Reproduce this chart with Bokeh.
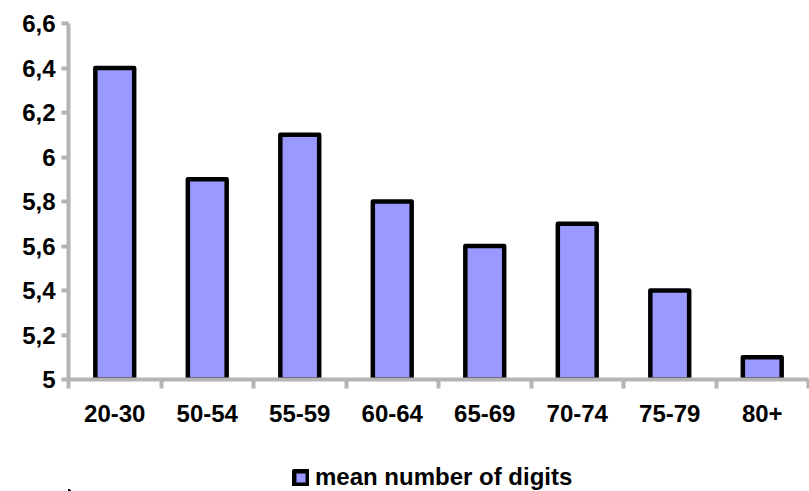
from bokeh.plotting import figure
from bokeh.layouts import column
from bokeh.models import (Range1d, FixedTicker, Legend, LegendItem, ColumnDataSource)
from bokeh.embed import file_html
from bokeh.resources import INLINE

# Mean number of digits recalled, by age group
age_groups = ["20-30", "50-54", "55-59", "60-64", "65-69", "70-74", "75-79", "80+"]
mean_digits = [6.4, 5.9, 6.1, 5.8, 5.6, 5.7, 5.4, 5.1]
y_ticks = [5.0, 5.2, 5.4, 5.6, 5.8, 6.0, 6.2, 6.4, 6.6]
y_tick_labels = ["5", "5,2", "5,4", "5,6", "5,8", "6", "6,2", "6,4", "6,6"]
series_name = "mean number of digits"

FONT = "Liberation Sans"
AXIS_GREY = "#b4b4b4"
BAR_STYLE = dict(fill_color="#9999ff", line_color="black", line_width=4.5,
                 line_join="round")

n = len(age_groups)
centers = [i + 0.5 for i in range(n)]
source = ColumnDataSource(dict(x=centers, top=mean_digits, label=age_groups))

p = figure(width=809, height=440, output_backend="svg", toolbar_location=None,
           x_range=Range1d(0, n), y_range=Range1d(5.0, 6.6),
           min_border_left=68, min_border_right=1, min_border_top=23,
           min_border_bottom=61)
p.outline_line_color = None
p.grid.visible = False

p.vbar(x="x", top="top", bottom=4.9, width=0.42, source=source, **BAR_STYLE)

# y axis
ya = p.yaxis[0]
ya.ticker = FixedTicker(ticks=y_ticks, minor_ticks=[])
ya.major_label_overrides = {t: s for t, s in zip(y_ticks, y_tick_labels)}
ya.axis_line_color = AXIS_GREY
ya.axis_line_width = 4
ya.major_tick_line_color = AXIS_GREY
ya.major_tick_line_width = 4
ya.major_tick_out = 7
ya.major_tick_in = 0
ya.major_label_standoff = 6
ya.major_label_text_font = FONT
ya.major_label_text_font_style = "bold"
ya.major_label_text_font_size = "24px"
ya.major_label_text_color = "black"

# x axis: labels at bar centres, tick marks between groups
xa = p.xaxis[0]
xa.ticker = FixedTicker(ticks=centers, minor_ticks=list(range(n + 1)))
xa.major_label_overrides = {c: s for c, s in zip(centers, age_groups)}
xa.axis_line_color = AXIS_GREY
xa.axis_line_width = 4
xa.major_tick_line_color = None
xa.major_tick_out = 8
xa.major_tick_in = 0
xa.minor_tick_line_color = AXIS_GREY
xa.minor_tick_line_width = 4
xa.minor_tick_out = 9
xa.minor_tick_in = 0
xa.major_label_standoff = 16
xa.major_label_text_font = FONT
xa.major_label_text_font_style = "bold"
xa.major_label_text_font_size = "24px"
xa.major_label_text_color = "black"

# legend strip under the chart; its renderer shares the series data but its
# ranges sit far away from the data, so only the legend swatch shows
lg = figure(width=809, height=51, output_backend="svg", toolbar_location=None,
            x_range=Range1d(1000, 1001), y_range=Range1d(1000, 1001),
            x_axis_location=None, y_axis_location=None,
            min_border=0)
lg.outline_line_color = None
lg.grid.visible = False
swatch = lg.vbar(x="x", top="top", bottom=4.9, width=0.42, source=source,
                 **BAR_STYLE)

legend = Legend(items=[LegendItem(label=series_name, renderers=[swatch])],
                location=(224, 0), orientation="horizontal",
                border_line_color=None, background_fill_alpha=0,
                label_text_font=FONT, label_text_font_style="bold",
                label_text_font_size="24px", label_text_color="black",
                glyph_width=17, glyph_height=17, label_standoff=6,
                padding=0, margin=0)
lg.add_layout(legend)

open("out.html", "w").write(file_html(column(p, lg, spacing=0), INLINE))
